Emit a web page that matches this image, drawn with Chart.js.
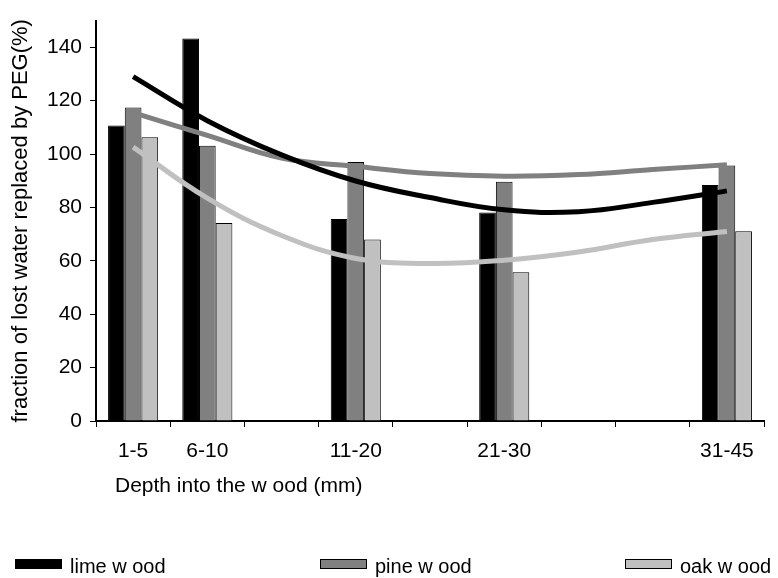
<!DOCTYPE html>
<html><head><meta charset="utf-8">
<script src="https://cdn.jsdelivr.net/npm/chart.js@4"></script>
<style>html,body{margin:0;padding:0;background:#fff;} #wrap{width:778px;height:578px;}</style>
</head><body><div id="wrap"><canvas id="c" width="778" height="578"></canvas></div>
<script>
const categories = ["1-5","6-10","","11-20","","21-30","","","31-45"];
const limeBars = [110.7,143.3,null,75.7,null,78.1,null,null,88.4];
const pineBars = [117.4,103.1,null,97.0,null,89.6,null,null,95.7];
const oakBars  = [106.3,74.2,null,68.0,null,55.7,null,null,71.1];
const limeTrend = [129,112.5,99.7,89.9,83.7,79.1,78.4,81.9,86.2];
const pineTrend = [115.5,107,98.5,95.4,92.7,91.7,92.3,94.2,96];
const oakTrend  = [102.6,83.5,69.5,60.9,59,60.2,63.3,68,71];
const yTicks = [0,20,40,60,80,100,120,140];
const seriesNames = ["lime w ood","pine w ood","oak w ood"];
const xTitle = "Depth into the w ood (mm)";
const yTitle = "fraction of lost water replaced by PEG(%)";

const colors = ["#000000","#808080","#c0c0c0"];
const FONT = "'Liberation Sans', Arial, sans-serif";

const bar = (label, data, color) => ({
  type: 'bar', label, data, backgroundColor: color, borderColor: '#000', borderWidth: 1,
  categoryPercentage: 0.675, barPercentage: 1.0, order: 1
});
const line = (label, data, color) => ({
  type: 'line', label, data, borderColor: color, borderWidth: 5, pointRadius: 0,
  tension: 0.4, fill: false, order: 0, borderCapStyle: 'butt'
});

const extras = {
  id: 'extras',
  afterDraw(chart) {
    const ctx = chart.ctx, ca = chart.chartArea;
    ctx.save();
    ctx.fillStyle = '#000';
    ctx.font = "21px " + FONT;
    ctx.textBaseline = 'middle';
    ctx.textAlign = 'left';
    ctx.fillText(xTitle, ca.left + 19, 486);
    // legend
    ctx.font = "20px " + FONT;
    seriesNames.forEach((n, i) => {
      const x = 15 + i * 305;
      ctx.fillStyle = colors[i];
      ctx.fillRect(x, 559, 47, 10);
      ctx.strokeStyle = '#000'; ctx.lineWidth = 1;
      ctx.strokeRect(x + 0.5, 559.5, 46, 9);
      ctx.fillStyle = '#000';
      ctx.textBaseline = 'alphabetic';
      ctx.fillText(n, x + 55, 573);
    });
    ctx.restore();
  }
};

new Chart(document.getElementById('c'), {
  data: {
    labels: categories,
    datasets: [
      bar(seriesNames[0], limeBars, colors[0]),
      bar(seriesNames[1], pineBars, colors[1]),
      bar(seriesNames[2], oakBars, colors[2]),
      line('lime trend', limeTrend, colors[0]),
      line('pine trend', pineTrend, colors[1]),
      line('oak trend', oakTrend, colors[2])
    ]
  },
  options: {
    responsive: false, animation: false, devicePixelRatio: 1,
    layout: { padding: { left: 0, right: 14, top: 16, bottom: 77 } },
    plugins: { legend: { display: false }, tooltip: { enabled: false } },
    scales: {
      x: {
        type: 'category', offset: true,
        grid: { offset: true, drawOnChartArea: false, drawTicks: true, tickLength: 6, color: '#000', lineWidth: 1 },
        border: { color: '#000', width: 2 },
        ticks: { color: '#000', font: { family: FONT, size: 21 }, padding: 12, maxRotation: 0, autoSkip: false },
        afterFit(s) { s.height = 80; }
      },
      y: {
        min: 0, max: 150,
        afterBuildTicks(s) { s.ticks = yTicks.map(v => ({ value: v })); },
        grid: { drawOnChartArea: false, drawTicks: true, tickLength: 6, color: '#000', lineWidth: 1 },
        border: { color: '#000', width: 2 },
        ticks: { color: '#000', font: { family: FONT, size: 21 }, padding: 8 },
        title: { display: true, text: yTitle, color: '#000', font: { family: FONT, size: 22 }, padding: { top: 8, bottom: 0 } },
        afterFit(s) { s.width = 96; }
      }
    }
  },
  plugins: [extras]
});
</script></body></html>
